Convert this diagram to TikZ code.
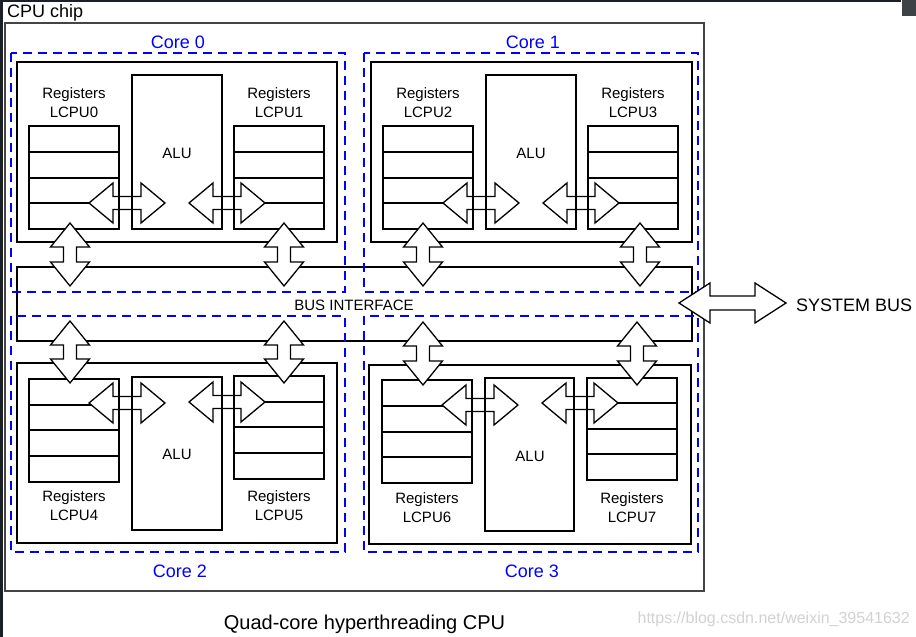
\documentclass[tikz,border=0pt]{standalone}
\usepackage{fontspec}
\setmainfont{Liberation Sans}
\definecolor{framedark}{HTML}{1B2026}
\definecolor{chipgray}{HTML}{444444}
\definecolor{wmgray}{HTML}{D2D2D2}
\tikzset{
  box/.style={draw=black, line width=1.3pt},
  chipbox/.style={draw=chipgray, line width=2pt},
  coredash/.style={draw=blue, line width=2.5pt, dash pattern=on 9pt off 6pt},
  blk/.style={draw=black, fill=white, line width=1.3pt, line join=miter},
  lbl/.style={font=\fontsize{15}{19}\selectfont, align=center, inner sep=0pt},
  corelbl/.style={font=\fontsize{18}{22}\selectfont, text=blue, inner sep=0pt},
  biglbl/.style={font=\fontsize{18}{22}\selectfont, inner sep=0pt},
}
% horizontal double block arrow: x1, x2, y
\newcommand\HArr[3]{\draw[blk] (#1,#3) -- ({#1+24},{#3-20}) -- ({#1+24},{#3-6.5}) -- ({#2-24},{#3-6.5}) -- ({#2-24},{#3-20}) -- (#2,#3) -- ({#2-24},{#3+20}) -- ({#2-24},{#3+6.5}) -- ({#1+24},{#3+6.5}) -- ({#1+24},{#3+20}) -- cycle;}
% vertical double block arrow: x, y1, y2
\newcommand\VArr[3]{\draw[blk] (#1,#2) -- ({#1+19.5},{#2+24}) -- ({#1+6.5},{#2+24}) -- ({#1+6.5},{#3-24}) -- ({#1+19.5},{#3-24}) -- (#1,#3) -- ({#1-19.5},{#3-24}) -- ({#1-6.5},{#3-24}) -- ({#1-6.5},{#2+24}) -- ({#1-19.5},{#2+24}) -- cycle;}
% register file fill and row lines: x1,x2,ytop,r1,r2,r3,ybottom
\newcommand\RegFill[7]{\fill[white] (#1,#3) rectangle (#2,#7);
  \draw[box] (#1,#4) -- (#2,#4) (#1,#5) -- (#2,#5) (#1,#6) -- (#2,#6);}
\newcommand\RegBorder[4]{\draw[box] (#1,#3) rectangle (#2,#4);}
\begin{document}
\begin{tikzpicture}[x=1pt,y=-1pt]
\useasboundingbox (0,0) rectangle (916,637);
\fill[white] (0,0) rectangle (916,637);
% screenshot frame
\fill[framedark] (0,0) rectangle (2.5,637);
\fill[framedark] (0,0) rectangle (901,1.5);
\fill[framedark!85] (902,0) rectangle (916,16);
% chip
\draw[chipbox] (5,23) rectangle (704,591);
\node[biglbl, anchor=west] (chiplbl) at (7,13) {CPU chip};
% bus interface
\draw[box, fill=white] (17,267) rectangle (692,341);
% inner core rectangles
\draw[box] (17,62) rectangle (337,242);
\draw[box] (371,62) rectangle (692,242);
\draw[box] (17,363) rectangle (337,543);
\draw[box] (369,365) rectangle (691,544);
% ALU fills
\fill[white] (132,75) rectangle (222,229);
\fill[white] (486,75) rectangle (576,229);
\fill[white] (132,377) rectangle (222,530);
\fill[white] (485,378) rectangle (574,531);
% register fills and rows
\RegFill{29}{119}{126}{152}{178}{203}{229}
\RegFill{234}{324}{126}{152}{178}{203}{229}
\RegFill{383}{473}{126}{152}{178}{203}{229}
\RegFill{588}{678}{126}{152}{178}{203}{229}
\RegFill{29}{119}{379}{405}{430}{456}{482}
\RegFill{234}{324}{376}{402}{427}{453}{479}
\RegFill{382}{472}{380}{406}{432}{457}{483}
\RegFill{587}{677}{378}{403}{429}{454}{480}
% horizontal arrows
\HArr{89}{165}{203} \HArr{189}{265}{203}
\HArr{443}{519}{203} \HArr{543}{619}{203}
\HArr{89}{165}{403} \HArr{189}{265}{402}
\HArr{442}{518}{405} \HArr{542}{618}{403}
% register and ALU borders
\RegBorder{29}{119}{126}{229} \RegBorder{234}{324}{126}{229}
\RegBorder{383}{473}{126}{229} \RegBorder{588}{678}{126}{229}
\RegBorder{29}{119}{379}{482} \RegBorder{234}{324}{376}{479}
\RegBorder{382}{472}{380}{483} \RegBorder{587}{677}{378}{480}
\draw[box] (132,75) rectangle (222,229);
\draw[box] (486,75) rectangle (576,229);
\draw[box] (132,377) rectangle (222,530);
\draw[box] (485,378) rectangle (574,531);
% vertical arrows
\VArr{70}{223}{286} \VArr{284}{223}{286}
\VArr{423}{223}{286} \VArr{640}{223}{286}
\VArr{70}{321}{383} \VArr{284}{321}{383}
\VArr{423}{322}{385} \VArr{637}{322}{385}
% core dashed boxes
\draw[coredash] (11,53) rectangle (345,292);
\draw[coredash] (364,53) rectangle (698,292);
\draw[coredash] (11,316) rectangle (345,552);
\draw[coredash] (364,316) rectangle (698,552);
% system bus arrow
\draw[blk] (679,303) -- (710,283) -- (710,296) -- (755,296) -- (755,283) -- (786,303) -- (755,323) -- (755,310) -- (710,310) -- (710,323) -- cycle;
\node[biglbl, anchor=west] (sysbus) at (796,305) {SYSTEM BUS};
% labels
\node[corelbl] (c0) at (178,42) {Core 0};
\node[corelbl] (c1) at (533,42) {Core 1};
\node[corelbl] (c2) at (180,571) {Core 2};
\node[corelbl] (c3) at (532,571) {Core 3};
\node[lbl] (bus) at (354,305) {BUS INTERFACE};
\node[lbl] (alu0) at (177,153) {ALU};
\node[lbl] (alu1) at (531,153) {ALU};
\node[lbl] (alu2) at (177,454) {ALU};
\node[lbl] (alu3) at (530,456) {ALU};
\node[lbl] (r0) at (74,102.5) {Registers\\LCPU0};
\node[lbl] (r1) at (279,102.5) {Registers\\LCPU1};
\node[lbl] (r2) at (428,102.5) {Registers\\LCPU2};
\node[lbl] (r3) at (633,102.5) {Registers\\LCPU3};
\node[lbl] (r4) at (74,506) {Registers\\LCPU4};
\node[lbl] (r5) at (279,506) {Registers\\LCPU5};
\node[lbl] (r6) at (427,508) {Registers\\LCPU6};
\node[lbl] (r7) at (632,508) {Registers\\LCPU7};
\node[font=\fontsize{20}{24}\selectfont, inner sep=0pt] (title) at (364.5,624) {Quad-core hyperthreading CPU};
\node[font=\fontsize{16}{19}\selectfont, text=wmgray, inner sep=0pt, anchor=east] (wm) at (910,619) {https://blog.csdn.net/weixin\_39541632};
\end{tikzpicture}
\end{document}
